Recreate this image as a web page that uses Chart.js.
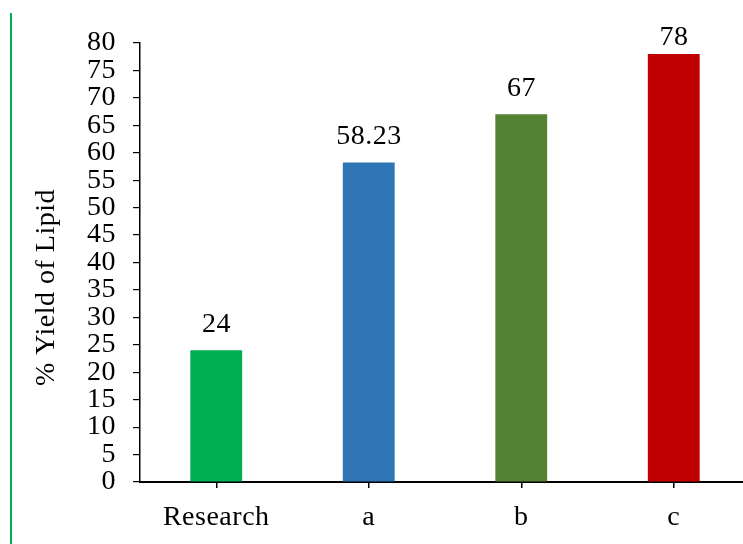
<!DOCTYPE html>
<html>
<head>
<meta charset="utf-8">
<script src="https://cdn.jsdelivr.net/npm/chart.js@4/dist/chart.umd.min.js"></script>
<style>
html,body{margin:0;padding:0;background:#fff;overflow:hidden;width:743px;height:544px;}
#wrap{position:relative;width:750px;height:544px;}
#edge{position:absolute;left:10px;top:13px;width:1.5px;height:531px;background:#00B050;}
canvas{position:absolute;left:0;top:0;}
</style>
</head>
<body>
<div id="wrap">
<canvas id="c" width="750" height="544"></canvas>
<div id="edge"></div>
</div>
<script>
const categories = ["Research", "a", "b", "c"];
const yieldValues = [24, 58.23, 67, 78];
const valueLabels = ["24", "58.23", "67", "78"];
const barColors = ["#00B050", "#2E75B6", "#548235", "#C00000"];
const yTitle = "% Yield of Lipid";

const FONT = "'Liberation Serif', 'Times New Roman', serif";
const FS = 28;
const SPACING = "0.5px";

const spacingPlugin = {
  id: 'spacing',
  beforeUpdate(chart) { chart.ctx.letterSpacing = SPACING; },
  beforeDraw(chart) { chart.ctx.letterSpacing = SPACING; }
};

const labelPlugin = {
  id: 'valueLabels',
  afterDatasetsDraw(chart) {
    const ctx = chart.ctx;
    const meta = chart.getDatasetMeta(0);
    const area = chart.chartArea;
    ctx.save();
    ctx.letterSpacing = SPACING;
    ctx.font = FS + "px " + FONT;
    ctx.fillStyle = "#000";
    ctx.textAlign = "center";
    ctx.textBaseline = "alphabetic";
    meta.data.forEach((bar, i) => {
      const y = Math.max(bar.y - 18, area.top + 2);
      ctx.fillText(valueLabels[i], bar.x + 0.3, y);
    });
    // y-axis title
    ctx.translate(47, (area.top + area.bottom) / 2 + 25);
    ctx.rotate(-Math.PI / 2);
    ctx.textBaseline = "middle";
    ctx.fillText(yTitle, 0, 0);
    ctx.restore();
  }
};

new Chart(document.getElementById('c'), {
  type: 'bar',
  data: {
    labels: categories,
    datasets: [{
      data: yieldValues,
      backgroundColor: barColors,
      borderWidth: 0,
      barPercentage: 0.34,
      categoryPercentage: 1
    }]
  },
  options: {
    responsive: false,
    animation: false,
    devicePixelRatio: 1,
    layout: { padding: { top: 43, right: 0, left: 0, bottom: 0 } },
    plugins: { legend: { display: false }, tooltip: { enabled: false } },
    scales: {
      x: {
        afterFit(scale) { scale.height = 62; },
        grid: { offset: false, drawOnChartArea: false, tickLength: 6, color: '#000', lineWidth: 1.5 },
        border: { color: '#000', width: 2 },
        ticks: { color: '#000', font: { family: FONT, size: FS }, padding: 13 }
      },
      y: {
        min: 0, max: 80,
        afterFit(scale) { scale.width = 140; },
        grid: { drawOnChartArea: false, tickLength: 7, color: '#000', lineWidth: 1.2 },
        border: { color: '#000', width: 1.5 },
        ticks: { stepSize: 5, color: '#000', font: { family: FONT, size: FS }, padding: 17, autoSkip: false },
        title: { display: false }
      }
    }
  },
  plugins: [spacingPlugin, labelPlugin]
});
</script>
</body>
</html>
